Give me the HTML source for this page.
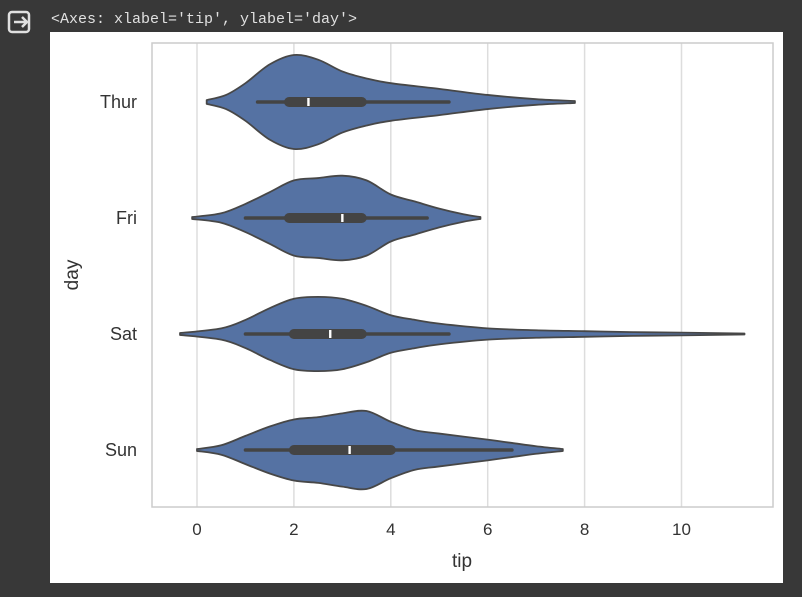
<!DOCTYPE html>
<html><head><meta charset="utf-8"><style>
body{margin:0;width:802px;height:597px;background:#383838;overflow:hidden;font-family:"Liberation Sans",sans-serif}
#hdr{position:absolute;left:51px;top:11px;font:15px "Liberation Mono",monospace;color:#e0e0e0}
#panel{position:absolute;left:50px;top:32px;width:733px;height:551px;background:#fff}
</style></head><body>
<svg style="position:absolute;left:7px;top:10px" width="26" height="24" viewBox="0 0 26 24"><rect x="2" y="2" width="20" height="20" rx="3" fill="none" stroke="#e0e0e0" stroke-width="2.5"/><path d="M7 12h13M15 7l5 5-5 5" fill="none" stroke="#e0e0e0" stroke-width="2.5"/></svg>
<div id="hdr">&lt;Axes: xlabel='tip', ylabel='day'&gt;</div>
<div id="panel"></div>
<svg id="chart" style="position:absolute;left:0;top:0" width="802" height="597"></svg>
<script>
const days=["Thur","Fri","Sat","Sun"];
const xTicks=[0,2,4,6,8,10];
const thurX=[0.2,0.6,1,1.5,2,2.5,3,3.5,4,5,6,7,7.8];
const thurW=[0.04,0.15,0.4,0.8,1,0.9,0.65,0.5,0.4,0.28,0.15,0.06,0.02];
const friX=[-0.1,0.5,1,1.5,2,2.5,3,3.5,4,4.5,5,5.5,5.85];
const friW=[0.02,0.1,0.3,0.55,0.8,0.85,0.9,0.8,0.5,0.35,0.2,0.08,0.02];
const satX=[-0.35,0.5,1,1.5,2,2.5,3,3.5,4,4.5,5,6,7,8,9,10,11.3];
const satW=[0.02,0.12,0.3,0.55,0.75,0.79,0.75,0.6,0.4,0.3,0.22,0.12,0.08,0.06,0.04,0.03,0.01];
const sunX=[0,0.5,1,1.5,2,2.5,3,3.5,4,4.5,5,6,6.5,7,7.55];
const sunW=[0.02,0.1,0.3,0.5,0.65,0.7,0.78,0.83,0.6,0.42,0.35,0.22,0.15,0.08,0.02];
const q1=[1.9,1.9,2.0,2.0], med=[2.3,3.0,2.75,3.15], q3=[3.4,3.4,3.4,4.0];
const wLo=[1.25,1.0,1.0,1.0], wHi=[5.2,4.75,5.2,6.5];
const profX=[thurX,friX,satX,sunX], profW=[thurW,friW,satW,sunW];

const svg=document.getElementById('chart'),NS="http://www.w3.org/2000/svg";
const L=152,R=773,T=43,B=507;
const sx=v=>197+v*48.45, sy=i=>102+i*116, HW=47;
function mk(t,a,p){const e=document.createElementNS(NS,t);for(const k in a)e.setAttribute(k,a[k]);(p||svg).appendChild(e);return e;}
for(const t of xTicks){
 const g=mk('line',{x1:sx(t),x2:sx(t),y1:T,y2:B,stroke:'#dddddd','stroke-width':1.5});
 
 
 const tx=mk('text',{x:sx(t),y:535,'text-anchor':'middle','font-size':17,fill:'#333'});tx.textContent=t;
 
 
}
const fr=mk('rect',{x:L,y:T,width:R-L,height:B-T,fill:'none',stroke:'#cccccc','stroke-width':1.5});


function smooth(pts){let d="M"+pts[0][0]+","+pts[0][1];
 for(let i=0;i<pts.length-1;i++){const p0=pts[Math.max(0,i-1)],p1=pts[i],p2=pts[i+1],p3=pts[Math.min(pts.length-1,i+2)];
 d+=" C"+(p1[0]+(p2[0]-p0[0])/6)+","+(p1[1]+(p2[1]-p0[1])/6)+" "+(p2[0]-(p3[0]-p1[0])/6)+","+(p2[1]-(p3[1]-p1[1])/6)+" "+p2[0]+","+p2[1];}
 return d;}
days.forEach((d,i)=>{
 const cy=sy(i),xs=profX[i],ws=profW[i];
 const top=xs.map((v,j)=>[sx(v),cy-ws[j]*HW]);
 const bot=xs.map((v,j)=>[sx(v),cy+ws[j]*HW]).reverse();
 const path=smooth(top)+" L"+bot[0][0]+","+bot[0][1]+smooth(bot).replace(/^M[^ ]+/,"")+" Z";
 const v=mk('path',{d:path,fill:'#5572a3',stroke:'#474747','stroke-width':1.8,'stroke-linejoin':'round'});
 
 
 const w=mk('line',{x1:sx(wLo[i]),x2:sx(wHi[i]),y1:cy,y2:cy,stroke:'#444','stroke-width':3.5,'stroke-linecap':'round'});
 
 
 const b=mk('line',{x1:sx(q1[i]),x2:sx(q3[i]),y1:cy,y2:cy,stroke:'#444','stroke-width':10,'stroke-linecap':'round'});
 
 
 const m=mk('rect',{x:sx(med[i])-1.2,y:cy-4,width:2.4,height:8,fill:'#fff'});
 
 
 const t=mk('text',{x:137,y:cy+6,'text-anchor':'end','font-size':18,fill:'#333'});t.textContent=d;
 
 
});
const xl=mk('text',{x:462,y:567,'text-anchor':'middle','font-size':19,fill:'#333'});xl.textContent='tip';


const yl=mk('text',{x:0,y:0,'text-anchor':'middle','font-size':19,fill:'#333',transform:'translate(78,275) rotate(-90)'});yl.textContent='day';


</script>
</body></html>
